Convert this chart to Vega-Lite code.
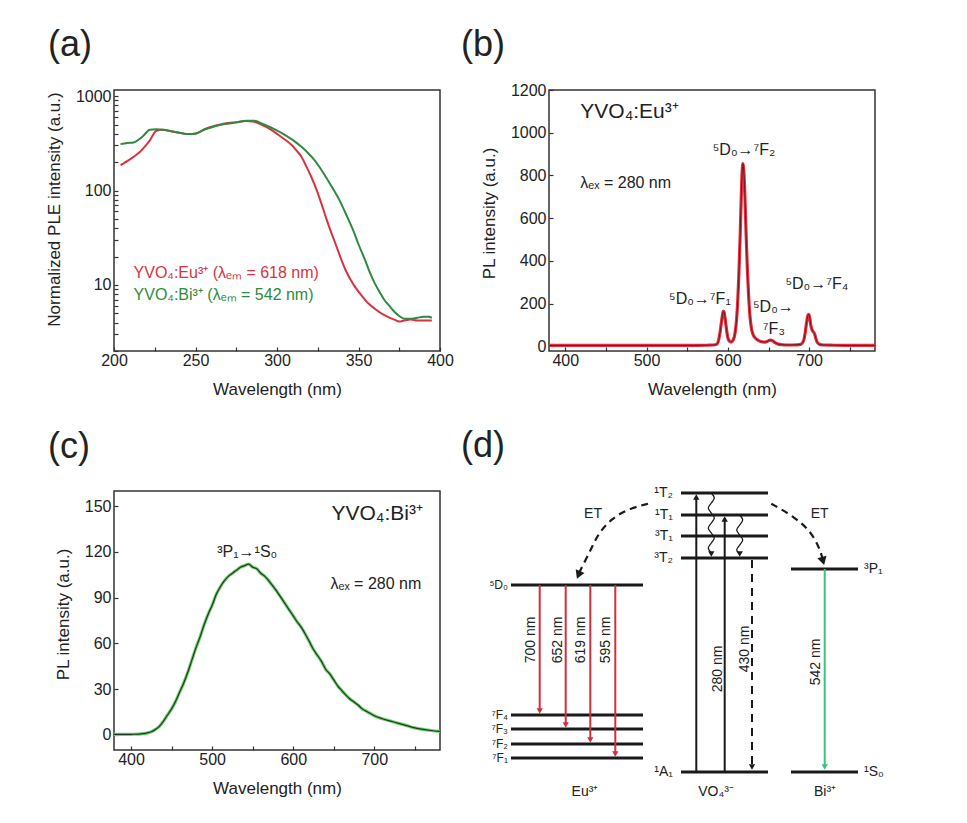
{
  "$schema": "https://vega.github.io/schema/vega-lite/v6.json",
  "background": "white",
  "padding": {"left": 44, "top": 26, "right": 5, "bottom": 5},
  "columns": 2,
  "bounds": "flush",
  "spacing": {"row": 140, "column": 109},
  "config": {
    "font": "Liberation Sans",
    "view": {"stroke": "#333333", "strokeWidth": 1.5},
    "axis": {
      "domain": false, "grid": false, "labelFlush": false, "labelOverlap": false,
      "tickColor": "#333333", "tickWidth": 1.2, "tickSize": -4,
      "labelFont": "Liberation Sans", "labelFontSize": 16, "labelColor": "#222222",
      "titleFont": "Liberation Sans", "titleFontSize": 17, "titleFontWeight": "normal", "titleColor": "#222222"
    },
    "axisX": {"labelPadding": 5, "titlePadding": 13},
    "axisY": {"labelPadding": 7, "titlePadding": 12},
    "title": {"font": "Liberation Sans", "fontSize": 36, "fontWeight": "normal", "anchor": "start", "frame": "group", "color": "#222222", "baseline": "alphabetic"},
    "text": {"font": "Liberation Sans", "color": "#222222"}
  },
  "concat": [
    {
      "width": 326, "height": 261,
      "view": {"stroke": "#333333", "strokeWidth": 1.5},
      "title": {"text": "(a)", "dx": -66, "offset": 24},
      "layer": [
        {
          "data": {"values": [
            {"s":"Eu","wl":204,"v":186},{"s":"Eu","wl":210,"v":215},{"s":"Eu","wl":217,"v":268},{"s":"Eu","wl":222,"v":340},{"s":"Eu","wl":226,"v":430},{"s":"Eu","wl":230,"v":440},{"s":"Eu","wl":235,"v":425},{"s":"Eu","wl":240,"v":408},{"s":"Eu","wl":246,"v":396},{"s":"Eu","wl":250,"v":400},{"s":"Eu","wl":256,"v":450},{"s":"Eu","wl":262,"v":485},{"s":"Eu","wl":268,"v":513},{"s":"Eu","wl":275,"v":530},{"s":"Eu","wl":281,"v":544},{"s":"Eu","wl":285,"v":538},{"s":"Eu","wl":291,"v":493},{"s":"Eu","wl":296,"v":445},{"s":"Eu","wl":301,"v":387},{"s":"Eu","wl":305,"v":345},{"s":"Eu","wl":309,"v":303},{"s":"Eu","wl":312,"v":265},{"s":"Eu","wl":315,"v":228},{"s":"Eu","wl":318,"v":180},{"s":"Eu","wl":321,"v":140},{"s":"Eu","wl":324,"v":105},{"s":"Eu","wl":327,"v":75},{"s":"Eu","wl":330,"v":52},{"s":"Eu","wl":333,"v":37},{"s":"Eu","wl":336,"v":27},{"s":"Eu","wl":339,"v":19.5},{"s":"Eu","wl":342,"v":14.5},{"s":"Eu","wl":345,"v":11.5},{"s":"Eu","wl":348,"v":9.5},{"s":"Eu","wl":352,"v":7.7},{"s":"Eu","wl":356,"v":6.4},{"s":"Eu","wl":360,"v":5.6},{"s":"Eu","wl":364,"v":5.0},{"s":"Eu","wl":368,"v":4.6},{"s":"Eu","wl":372,"v":4.3},{"s":"Eu","wl":375,"v":4.1},{"s":"Eu","wl":378,"v":4.2},{"s":"Eu","wl":382,"v":4.3},{"s":"Eu","wl":386,"v":4.2},{"s":"Eu","wl":390,"v":4.2},{"s":"Eu","wl":395,"v":4.2},
            {"s":"Bi","wl":204,"v":310},{"s":"Bi","wl":208,"v":318},{"s":"Bi","wl":212,"v":322},{"s":"Bi","wl":215,"v":345},{"s":"Bi","wl":218,"v":380},{"s":"Bi","wl":222,"v":440},{"s":"Bi","wl":226,"v":445},{"s":"Bi","wl":230,"v":440},{"s":"Bi","wl":235,"v":425},{"s":"Bi","wl":240,"v":410},{"s":"Bi","wl":246,"v":396},{"s":"Bi","wl":250,"v":402},{"s":"Bi","wl":256,"v":445},{"s":"Bi","wl":262,"v":480},{"s":"Bi","wl":268,"v":505},{"s":"Bi","wl":275,"v":525},{"s":"Bi","wl":281,"v":548},{"s":"Bi","wl":286,"v":548},{"s":"Bi","wl":292,"v":500},{"s":"Bi","wl":298,"v":450},{"s":"Bi","wl":305,"v":387},{"s":"Bi","wl":310,"v":340},{"s":"Bi","wl":315,"v":290},{"s":"Bi","wl":319,"v":250},{"s":"Bi","wl":323,"v":210},{"s":"Bi","wl":327,"v":168},{"s":"Bi","wl":331,"v":130},{"s":"Bi","wl":335,"v":100},{"s":"Bi","wl":339,"v":75},{"s":"Bi","wl":343,"v":53},{"s":"Bi","wl":347,"v":37},{"s":"Bi","wl":350,"v":27},{"s":"Bi","wl":354,"v":18.4},{"s":"Bi","wl":357,"v":13.5},{"s":"Bi","wl":360,"v":10.4},{"s":"Bi","wl":363,"v":8.4},{"s":"Bi","wl":366,"v":6.9},{"s":"Bi","wl":369,"v":6.0},{"s":"Bi","wl":372,"v":5.2},{"s":"Bi","wl":375,"v":4.7},{"s":"Bi","wl":378,"v":4.4},{"s":"Bi","wl":382,"v":4.4},{"s":"Bi","wl":386,"v":4.5},{"s":"Bi","wl":390,"v":4.6},{"s":"Bi","wl":393,"v":4.6},{"s":"Bi","wl":395,"v":4.5}
          ]},
          "mark": {"type": "line", "strokeWidth": 2, "interpolate": "monotone"},
          "encoding": {
            "x": {"field": "wl", "type": "quantitative", "scale": {"domain": [200, 400], "nice": false},
              "axis": {"title": "Wavelength (nm)", "values": [200,225,250,275,300,325,350,375,400], "labelFlush": false,
                "labelExpr": "datum.value % 50 === 0 ? datum.label : ''"}},
            "y": {"field": "v", "type": "quantitative", "scale": {"type": "log", "domain": [2, 1160], "nice": false},
              "axis": {"title": "Normalized PLE intensity (a.u.)", "format": "d", "titleY": 119,
                "values": [2,3,4,5,6,7,8,9,10,20,30,40,50,60,70,80,90,100,200,300,400,500,600,700,800,900,1000],
                "labelExpr": "(datum.value === 10 || datum.value === 100 || datum.value === 1000) ? datum.label : ''"}},
            "color": {"field": "s", "type": "nominal", "scale": {"domain": ["Eu", "Bi"], "range": ["#d8333f", "#2e8a40"]}, "legend": null}
          }
        },
        {
          "data": {"values": [
            {"s": "Eu", "wl": 212, "v": 11.75, "t": "YVO₄:Eu³⁺ (λₑₘ = 618 nm)"},
            {"s": "Bi", "wl": 212, "v": 6.93, "t": "YVO₄:Bi³⁺ (λₑₘ = 542 nm)"}
          ]},
          "mark": {"type": "text", "align": "left", "baseline": "alphabetic", "fontSize": 16},
          "encoding": {
            "x": {"field": "wl", "type": "quantitative"},
            "y": {"field": "v", "type": "quantitative"},
            "text": {"field": "t"},
            "color": {"field": "s", "type": "nominal", "legend": null}
          }
        }
      ]
    },
    {
      "width": 326, "height": 261,
      "view": {"stroke": "#333333", "strokeWidth": 1.5},
      "title": {"text": "(b)", "dx": -88, "offset": 18},
      "layer": [
        {
          "data": {"name": "eu"},
          "mark": {"type": "line", "strokeWidth": 3.2, "color": "#e8313f", "interpolate": "monotone"},
          "encoding": {
            "x": {"field": "wl", "type": "quantitative", "scale": {"domain": [380, 781], "nice": false},
              "axis": {"title": "Wavelength (nm)", "values": [400,450,500,550,600,650,700,750], "labelFlush": false,
                "labelExpr": "datum.value % 100 === 0 ? datum.label : ''"}},
            "y": {"field": "v", "type": "quantitative", "scale": {"domain": [-22, 1200], "nice": false},
              "axis": {"title": "PL intensity (a.u.)", "titleY": 123, "format": "d",
                "values": [0,100,200,300,400,500,600,700,800,900,1000,1100,1200],
                "labelExpr": "datum.value % 200 === 0 ? datum.label : ''"}}
          }
        },
        {
          "data": {"name": "eu"},
          "mark": {"type": "line", "strokeWidth": 1, "color": "#6b1520", "interpolate": "monotone"},
          "encoding": {
            "x": {"field": "wl", "type": "quantitative"},
            "y": {"field": "v", "type": "quantitative"}
          }
        },
        {
          "data": {"values": [{"wl": 418.5, "v": 1067, "t": "YVO₄:Eu³⁺"}]},
          "mark": {"type": "text", "align": "left", "baseline": "alphabetic", "fontSize": 21},
          "encoding": {"x": {"field": "wl", "type": "quantitative"}, "y": {"field": "v", "type": "quantitative"}, "text": {"field": "t"}}
        },
        {
          "data": {"values": [{"wl": 418.5, "v": 739, "t": "λₑₓ = 280 nm"}]},
          "mark": {"type": "text", "align": "left", "baseline": "alphabetic", "fontSize": 16},
          "encoding": {"x": {"field": "wl", "type": "quantitative"}, "y": {"field": "v", "type": "quantitative"}, "text": {"field": "t"}}
        },
        {
          "data": {"values": [
            {"wl": 619.9, "v": 895, "t": "⁵D₀→⁷F₂"},
            {"wl": 565.6, "v": 200, "t": "⁵D₀→⁷F₁"},
            {"wl": 656, "v": 161, "t": "⁵D₀→"},
            {"wl": 656.6, "v": 59, "t": "⁷F₃"},
            {"wl": 709.5, "v": 270, "t": "⁵D₀→⁷F₄"}
          ]},
          "mark": {"type": "text", "align": "center", "baseline": "alphabetic", "fontSize": 16},
          "encoding": {"x": {"field": "wl", "type": "quantitative"}, "y": {"field": "v", "type": "quantitative"}, "text": {"field": "t"}}
        }
      ]
    },
    {
      "width": 326, "height": 259,
      "view": {"stroke": "#333333", "strokeWidth": 1.5},
      "title": {"text": "(c)", "dx": -66, "offset": 25},
      "layer": [
        {
          "data": {"name": "bi"},
          "mark": {"type": "line", "strokeWidth": 3.2, "color": "#6fd06f", "interpolate": "monotone"},
          "encoding": {
            "x": {"field": "wl", "type": "quantitative", "scale": {"domain": [379, 781], "nice": false},
              "axis": {"title": "Wavelength (nm)", "values": [400,450,500,550,600,650,700,750], "labelFlush": false,
                "labelExpr": "datum.value % 100 === 0 ? datum.label : ''"}},
            "y": {"field": "v", "type": "quantitative", "scale": {"domain": [-10, 160], "nice": false},
              "axis": {"title": "PL intensity (a.u.)", "titleY": 123,
                "values": [0,15,30,45,60,75,90,105,120,135,150],
                "labelExpr": "datum.value % 30 === 0 ? datum.label : ''"}}
          }
        },
        {
          "data": {"name": "bi"},
          "mark": {"type": "line", "strokeWidth": 1.2, "color": "#1e3a1e", "interpolate": "monotone"},
          "encoding": {
            "x": {"field": "wl", "type": "quantitative"},
            "y": {"field": "v", "type": "quantitative"}
          }
        },
        {
          "data": {"values": [{"wl": 759.9, "v": 140.8, "t": "YVO₄:Bi³⁺"}]},
          "mark": {"type": "text", "align": "right", "baseline": "alphabetic", "fontSize": 21},
          "encoding": {"x": {"field": "wl", "type": "quantitative"}, "y": {"field": "v", "type": "quantitative"}, "text": {"field": "t"}}
        },
        {
          "data": {"values": [{"wl": 757.9, "v": 96, "t": "λₑₓ = 280 nm"}]},
          "mark": {"type": "text", "align": "right", "baseline": "alphabetic", "fontSize": 16},
          "encoding": {"x": {"field": "wl", "type": "quantitative"}, "y": {"field": "v", "type": "quantitative"}, "text": {"field": "t"}}
        },
        {
          "data": {"values": [{"wl": 543.3, "v": 116.8, "t": "³P₁→¹S₀"}]},
          "mark": {"type": "text", "align": "center", "baseline": "alphabetic", "fontSize": 16},
          "encoding": {"x": {"field": "wl", "type": "quantitative"}, "y": {"field": "v", "type": "quantitative"}, "text": {"field": "t"}}
        }
      ]
    },
    {
      "width": 326, "height": 259,
      "view": {"stroke": null},
      "title": {"text": "(d)", "dx": -88, "offset": 21},
      "encoding": {
        "x": {"field": "x", "type": "quantitative", "scale": {"domain": [0, 326], "nice": false, "zero": false}, "axis": null},
        "y": {"field": "e", "type": "quantitative", "scale": {"domain": [22, 281], "nice": false, "zero": false}, "axis": null}
      },
      "layer": [
        {
          "data": {"values": [
            {"x":-38,"x2":94,"e":187},{"x":-38,"x2":94,"e":57},{"x":-38,"x2":94,"e":43},{"x":-38,"x2":94,"e":28},{"x":-38,"x2":94,"e":14},
            {"x":132,"x2":219,"e":279},{"x":132,"x2":219,"e":257},{"x":132,"x2":219,"e":236},{"x":132,"x2":219,"e":214},{"x":132,"x2":219,"e":0},
            {"x":242,"x2":309,"e":203},{"x":242,"x2":309,"e":0}
          ]},
          "mark": {"type": "rule", "strokeWidth": 3, "color": "#1a1a1a"},
          "encoding": {"x2": {"field": "x2"}}
        },
        {
          "data": {"values": [
            {"x":-9.3,"e":187,"e2":62},{"x":16.7,"e":187,"e2":48},{"x":41.3,"e":187,"e2":33},{"x":66.3,"e":187,"e2":19}
          ]},
          "mark": {"type": "rule", "strokeWidth": 2, "color": "#d22f3c"},
          "encoding": {"y2": {"field": "e2"}}
        },
        {
          "data": {"values": [{"x":147.3,"e":0,"e2":275},{"x":175.7,"e":0,"e2":253}]},
          "mark": {"type": "rule", "strokeWidth": 2, "color": "#1a1a1a"},
          "encoding": {"y2": {"field": "e2"}}
        },
        {
          "data": {"values": [{"x":275.7,"e":203,"e2":6}]},
          "mark": {"type": "rule", "strokeWidth": 2, "color": "#3cc27c"},
          "encoding": {"y2": {"field": "e2"}}
        },
        {
          "data": {"values": [{"x":203,"e":212,"e2":6}]},
          "mark": {"type": "rule", "strokeWidth": 2, "strokeDash": [8, 6], "color": "#1a1a1a"},
          "encoding": {"y2": {"field": "e2"}}
        },
        {
          "data": {"values": [
            {"p":"w1","i":0,"x":162.3,"e":279},{"p":"w1","i":1,"x":165.3,"e":274},{"p":"w1","i":2,"x":162.3,"e":269},{"p":"w1","i":3,"x":159.3,"e":264},{"p":"w1","i":4,"x":162.3,"e":259},{"p":"w1","i":5,"x":165.3,"e":254},{"p":"w1","i":6,"x":162.3,"e":249},{"p":"w1","i":7,"x":159.3,"e":244},{"p":"w1","i":8,"x":162.3,"e":239},{"p":"w1","i":9,"x":165.3,"e":234},{"p":"w1","i":10,"x":162.3,"e":229},{"p":"w1","i":11,"x":159.3,"e":224},{"p":"w1","i":12,"x":162.3,"e":219},
            {"p":"w2","i":0,"x":190.7,"e":257},{"p":"w2","i":1,"x":193.7,"e":252},{"p":"w2","i":2,"x":190.7,"e":247},{"p":"w2","i":3,"x":187.7,"e":242},{"p":"w2","i":4,"x":190.7,"e":237},{"p":"w2","i":5,"x":193.7,"e":232},{"p":"w2","i":6,"x":190.7,"e":227},{"p":"w2","i":7,"x":187.7,"e":222},{"p":"w2","i":8,"x":190.7,"e":218}
          ]},
          "mark": {"type": "line", "strokeWidth": 1.3, "color": "#1a1a1a", "interpolate": "catmull-rom"},
          "encoding": {"detail": {"field": "p"}, "order": {"field": "i", "type": "quantitative"}}
        },
        {
          "data": {"values": [
            {"p":"L","i":0,"x":99,"e":268.3},{"p":"L","i":1,"x":79,"e":263},{"p":"L","i":2,"x":62.3,"e":253.3},{"p":"L","i":3,"x":49,"e":238},{"p":"L","i":4,"x":42.3,"e":223.3},{"p":"L","i":5,"x":34,"e":207},{"p":"L","i":6,"x":30,"e":199},
            {"p":"R","i":0,"x":222.3,"e":268.3},{"p":"R","i":1,"x":245.7,"e":255},{"p":"R","i":2,"x":262.3,"e":240},{"p":"R","i":3,"x":270.7,"e":223.3},{"p":"R","i":4,"x":273.6,"e":213}
          ]},
          "mark": {"type": "line", "strokeWidth": 2.2, "strokeDash": [7, 5], "color": "#1a1a1a", "interpolate": "basis"},
          "encoding": {"detail": {"field": "p"}, "order": {"field": "i", "type": "quantitative"}}
        },
        {
          "data": {"values": [{"x":-9.3,"e":61},{"x":16.7,"e":47},{"x":41.3,"e":32},{"x":66.3,"e":18}]},
          "mark": {"type": "point", "shape": "triangle-down", "filled": true, "size": 40, "opacity": 1, "color": "#d22f3c"}
        },
        {
          "data": {"values": [{"x":275.7,"e":5}]},
          "mark": {"type": "point", "shape": "triangle-down", "filled": true, "size": 40, "opacity": 1, "color": "#3cc27c"}
        },
        {
          "data": {"values": [{"x":203,"e":5},{"x":162.3,"e":218},{"x":190.7,"e":218}]},
          "mark": {"type": "point", "shape": "triangle-down", "filled": true, "size": 40, "opacity": 1, "color": "#1a1a1a"}
        },
        {
          "data": {"values": [{"x":147.3,"e":275},{"x":175.7,"e":253}]},
          "mark": {"type": "point", "shape": "triangle-up", "filled": true, "size": 40, "opacity": 1, "color": "#1a1a1a"}
        },
        {
          "data": {"values": [{"x": 29.5, "e": 197}]},
          "mark": {"type": "point", "shape": "triangle-up", "filled": true, "size": 90, "opacity": 1, "color": "#1a1a1a", "angle": 203}
        },
        {
          "data": {"values": [{"x": 274, "e": 211}]},
          "mark": {"type": "point", "shape": "triangle-up", "filled": true, "size": 90, "opacity": 1, "color": "#1a1a1a", "angle": 164}
        },
        {
          "data": {"values": [
            {"x":-41,"e":187,"t":"⁵D₀"},{"x":-41,"e":57,"t":"⁷F₄"},{"x":-41,"e":43,"t":"⁷F₃"},{"x":-41,"e":28,"t":"⁷F₂"},{"x":-41,"e":14,"t":"⁷F₁"}
          ]},
          "mark": {"type": "text", "align": "right", "baseline": "middle", "fontSize": 12},
          "encoding": {"text": {"field": "t"}}
        },
        {
          "data": {"values": [
            {"x":124,"e":279,"t":"¹T₂"},{"x":124,"e":257,"t":"¹T₁"},{"x":124,"e":236,"t":"³T₁"},{"x":124,"e":214,"t":"³T₂"},{"x":124,"e":0,"t":"¹A₁"}
          ]},
          "mark": {"type": "text", "align": "right", "baseline": "middle", "fontSize": 14},
          "encoding": {"text": {"field": "t"}}
        },
        {
          "data": {"values": [{"x":315,"e":203,"t":"³P₁"},{"x":315,"e":0,"t":"¹S₀"}]},
          "mark": {"type": "text", "align": "left", "baseline": "middle", "fontSize": 14},
          "encoding": {"text": {"field": "t"}}
        },
        {
          "data": {"values": [{"x":36,"e":-20,"t":"Eu³⁺"},{"x":167,"e":-20,"t":"VO₄³⁻"},{"x":276,"e":-20,"t":"Bi³⁺"},{"x":44,"e":258,"t":"ET"},{"x":270.7,"e":258,"t":"ET"}]},
          "mark": {"type": "text", "align": "center", "baseline": "middle", "fontSize": 14},
          "encoding": {"text": {"field": "t"}}
        },
        {
          "data": {"values": [
            {"x":-17.7,"e":132,"t":"700 nm"},{"x":9,"e":132,"t":"652 nm"},{"x":32.3,"e":132,"t":"619 nm"},{"x":57.3,"e":132,"t":"595 nm"},
            {"x":169,"e":103,"t":"280 nm"},{"x":195.7,"e":123,"t":"430 nm"},{"x":267.3,"e":110,"t":"542 nm"}
          ]},
          "mark": {"type": "text", "align": "center", "baseline": "middle", "fontSize": 14, "angle": 270},
          "encoding": {"text": {"field": "t"}}
        }
      ]
    }
  ],
  "datasets": {
    "eu": [
      {"wl":380,"v":4},{"wl":400,"v":4},{"wl":450,"v":4},{"wl":500,"v":4},{"wl":550,"v":4},{"wl":575,"v":5},{"wl":582,"v":6},{"wl":586,"v":9},{"wl":588,"v":20},{"wl":590,"v":55},{"wl":592,"v":110},{"wl":593.5,"v":150},{"wl":594.5,"v":165},{"wl":595.5,"v":158},{"wl":597,"v":120},{"wl":598.5,"v":75},{"wl":600,"v":40},{"wl":602,"v":24},{"wl":604,"v":20},{"wl":606,"v":26},{"wl":608,"v":45},{"wl":610,"v":95},{"wl":612,"v":200},{"wl":613.5,"v":330},{"wl":615,"v":500},{"wl":616.5,"v":700},{"wl":617.5,"v":810},{"wl":618.5,"v":855},{"wl":619.5,"v":830},{"wl":621,"v":700},{"wl":622.5,"v":520},{"wl":624,"v":360},{"wl":625.5,"v":240},{"wl":627,"v":150},{"wl":629,"v":85},{"wl":631,"v":55},{"wl":634,"v":38},{"wl":638,"v":27},{"wl":642,"v":21},{"wl":646,"v":20},{"wl":649,"v":24},{"wl":652,"v":29},{"wl":655,"v":26},{"wl":658,"v":17},{"wl":662,"v":10},{"wl":668,"v":7},{"wl":675,"v":6},{"wl":685,"v":7},{"wl":690,"v":10},{"wl":693,"v":25},{"wl":695,"v":60},{"wl":697,"v":115},{"wl":698.5,"v":145},{"wl":699.5,"v":150},{"wl":700.5,"v":138},{"wl":702,"v":100},{"wl":703.5,"v":78},{"wl":705,"v":68},{"wl":706.5,"v":60},{"wl":708,"v":40},{"wl":710,"v":18},{"wl":713,"v":9},{"wl":718,"v":6},{"wl":730,"v":5},{"wl":750,"v":4},{"wl":781,"v":4}
    ],
    "bi": [
      {"wl":379,"v":0.3},{"wl":390,"v":0.2},{"wl":400,"v":0.3},{"wl":410,"v":0.4},{"wl":415,"v":0.7},{"wl":420,"v":1.2},{"wl":425,"v":2},{"wl":430,"v":3.5},{"wl":435,"v":5.5},{"wl":440,"v":9},{"wl":445,"v":13},{"wl":450,"v":17},{"wl":455,"v":22},{"wl":460,"v":28},{"wl":465,"v":34},{"wl":470,"v":41},{"wl":475,"v":49},{"wl":480,"v":57},{"wl":485,"v":64},{"wl":490,"v":72},{"wl":495,"v":79},{"wl":500,"v":85},{"wl":505,"v":92},{"wl":510,"v":97},{"wl":515,"v":101},{"wl":520,"v":104},{"wl":525,"v":106},{"wl":530,"v":108},{"wl":535,"v":110},{"wl":540,"v":111},{"wl":545,"v":112},{"wl":550,"v":110},{"wl":555,"v":109},{"wl":560,"v":106},{"wl":565,"v":104},{"wl":570,"v":101},{"wl":575,"v":97.5},{"wl":580,"v":94},{"wl":585,"v":90},{"wl":590,"v":86},{"wl":595,"v":82},{"wl":600,"v":78},{"wl":605,"v":74},{"wl":610,"v":70.5},{"wl":615,"v":66},{"wl":620,"v":61},{"wl":625,"v":56},{"wl":630,"v":52},{"wl":635,"v":48},{"wl":640,"v":43},{"wl":645,"v":40},{"wl":650,"v":36},{"wl":655,"v":32},{"wl":660,"v":29},{"wl":665,"v":26},{"wl":670,"v":23.5},{"wl":675,"v":21.5},{"wl":680,"v":19.5},{"wl":685,"v":17},{"wl":690,"v":15.5},{"wl":695,"v":14},{"wl":700,"v":12.5},{"wl":710,"v":10.5},{"wl":720,"v":9},{"wl":730,"v":7.5},{"wl":740,"v":6},{"wl":750,"v":4.5},{"wl":760,"v":3.5},{"wl":770,"v":2.8},{"wl":781,"v":2.2}
    ]
  }
}
